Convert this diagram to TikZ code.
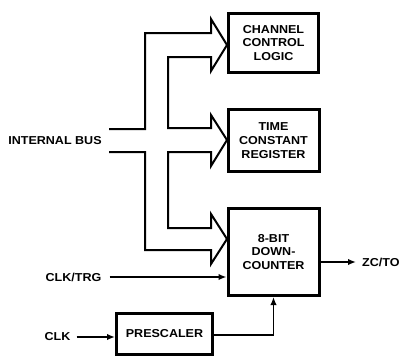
\documentclass[tikz,border=0pt]{standalone}
\usepackage{fontspec}
\newfontfamily\lbl{Liberation Sans}[FakeStretch=1.09]
\usetikzlibrary{arrows.meta}
\tikzset{
  txt/.style={font=\lbl\bfseries\fontsize{11.5}{13.7}\selectfont, inner sep=0pt, align=center},
  box/.style={txt, draw, line width=3pt},
  sig/.style={line width=1.6pt, -{Latex[length=8pt,width=6.5pt]}},
  bus/.style={line width=2pt, line join=miter}
}
\begin{document}
\begin{tikzpicture}[x=1pt,y=-1pt]
\useasboundingbox (0,0) rectangle (402,357);
% boxes
\node[box, minimum width=90pt, minimum height=59pt] (ccl) at (273.5,43) {CHANNEL\\CONTROL\\LOGIC};
\node[box, minimum width=91pt, minimum height=62pt] (tcr) at (273.5,140.5) {TIME\\CONSTANT\\REGISTER};
\node[box, minimum width=91pt, minimum height=87pt] (cnt) at (273.5,252) {8-BIT\\DOWN-\\COUNTER};
\node[box, minimum width=96pt, minimum height=41pt] (pre) at (164.5,333.5) {PRESCALER};
% labels
\node[txt] (ibus) at (55,141) {INTERNAL BUS};
\node[txt] (clktrg) at (73.5,277) {CLK/TRG};
\node[txt, anchor=west] (zcto) at (362,262) {ZC/TO};
\node[txt] (clk) at (57.5,337) {CLK};
% internal bus (hollow wide arrows)
\draw[bus] (109,129) -- (145,129) -- (145,33) -- (211,33) -- (211,19) -- (227,45)
  -- (211,71) -- (211,57) -- (168,57) -- (168,128) -- (211,128) -- (211,115)
  -- (227,140) -- (211,166) -- (211,152) -- (168,152) -- (168,228) -- (211,228)
  -- (211,214) -- (227,239) -- (211,264) -- (211,250) -- (145,250) -- (145,152)
  -- (109,152);
% signals
\draw[sig] ([xshift=8pt]clktrg.east) -- (clktrg -| cnt.west);
\draw[sig] (cnt.east |- zcto.west) -- ([xshift=-6pt]zcto.west);
\draw[sig] ([xshift=6pt]clk.east) -- (clk -| pre.west);
\draw[sig] ([yshift=-1.5pt]pre.east) -| (cnt.south);
\end{tikzpicture}
\end{document}
